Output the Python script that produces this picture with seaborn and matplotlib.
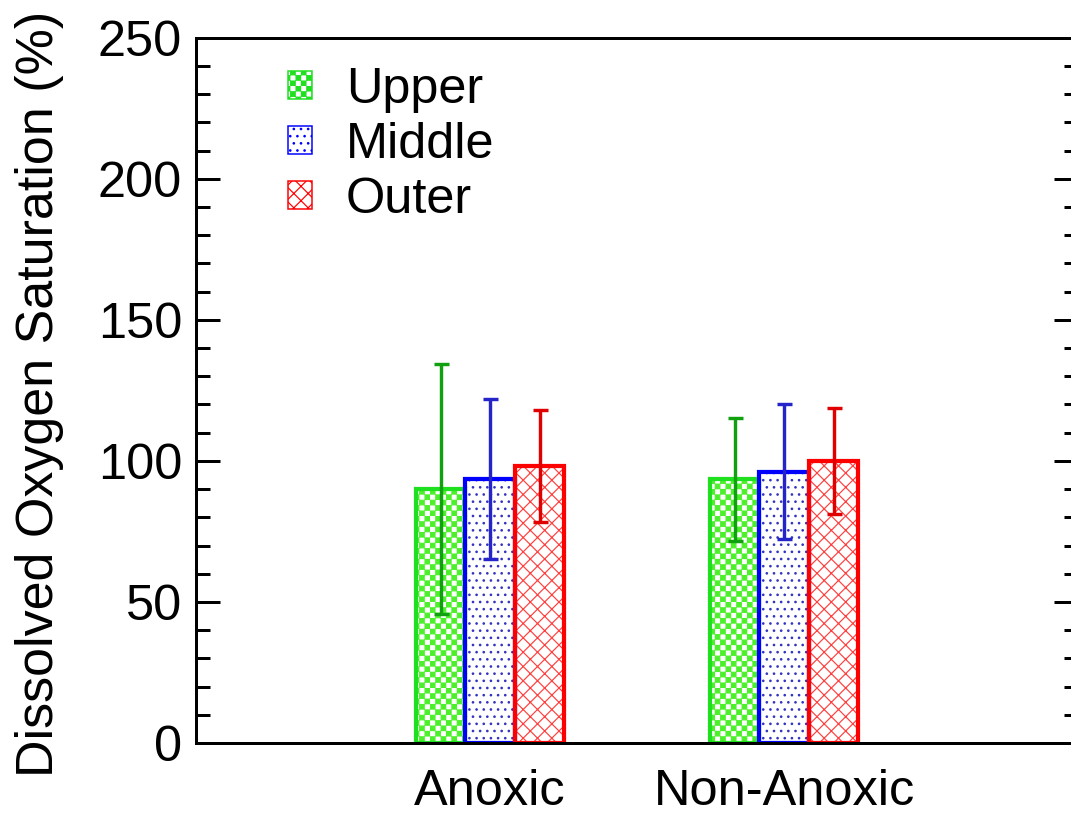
import warnings
import numpy as np
import pandas as pd
import matplotlib
matplotlib.use('Agg')
import matplotlib.pyplot as plt
import matplotlib.hatch as mhatch
from matplotlib.path import Path
from matplotlib.patches import Patch
from matplotlib.ticker import MultipleLocator
import seaborn as sns

warnings.filterwarnings('ignore')

# ---------------- data ----------------
categories = ['Anoxic', 'Non-Anoxic']
zones = ['Upper', 'Middle', 'Outer']
upper_mean = [90.0, 93.5]
upper_sd = [44.4, 21.8]
middle_mean = [93.5, 96.2]
middle_sd = [28.4, 23.8]
outer_mean = [98.3, 99.8]
outer_sd = [19.8, 18.8]
y_ticks = [0, 50, 100, 150, 200, 250]
y_label = 'Dissolved Oxygen Saturation (%)'

# ---------------- style ----------------
edge_colors = ['#1ee01e', '#0000ff', '#ff0000']
fill_colors = ['#4cf02a', '#3434c0', '#ff4040']
err_colors = ['#10a010', '#2424c8', '#e00000']
hatches = ['c', '..', 'xx']

DPI = 86
PT = 72.0 / DPI
FS = 50.5 * PT
FS_LABEL = 52 * PT


class CheckerHatch(mhatch.HatchPatternBase):
    """Filled checkerboard hatch, selected with the character 'c'."""
    cells = 16

    def __init__(self, hatch, density):
        k = hatch.count('c') if hatch else 0
        self.n = self.cells * k
        self.num_vertices = (self.n * self.n // 2) * 5

    def set_vertices_and_codes(self, vertices, codes):
        s = 1.0 / self.n
        inset = 0.005
        quads = []
        for i in range(self.n):
            for j in range(self.n):
                if (i + j) % 2 == 0:
                    x0, y0 = i * s + inset, j * s + inset
                    x1, y1 = (i + 1) * s - inset, (j + 1) * s - inset
                    quads.append([[x0, y0], [x1, y0], [x1, y1], [x0, y1], [x0, y0]])
        vertices[:] = np.asarray(quads, dtype=float).reshape(-1, 2)
        codes[:] = np.tile([Path.MOVETO, Path.LINETO, Path.LINETO,
                            Path.LINETO, Path.CLOSEPOLY], len(quads))


mhatch._hatch_types.append(CheckerHatch)

sns.set_style('white')
plt.rcParams['font.family'] = ['Liberation Sans', 'DejaVu Sans']
plt.rcParams['hatch.linewidth'] = 1.0
for key in ['text.color', 'axes.labelcolor', 'xtick.color', 'ytick.color',
            'axes.edgecolor']:
    plt.rcParams[key] = 'black'

means = [upper_mean, middle_mean, outer_mean]
sds = [upper_sd, middle_sd, outer_sd]
rows = []
for z, m in zip(zones, means):
    for c, v in zip(categories, m):
        rows.append({'condition': c, 'zone': z, 'value': v})
df = pd.DataFrame(rows)

fig = plt.figure(figsize=((1071 + 0.3) / DPI, (815 + 0.3) / DPI), dpi=DPI)
fig.patch.set_facecolor('white')
ax = fig.add_axes([196 / 1071, 72 / 815, 882 / 1071, 705 / 815])

# hatched fills
sns.barplot(data=df, x='condition', y='value', hue='zone', order=categories,
            hue_order=zones, palette=fill_colors, width=0.505, errorbar=None,
            saturation=1, linewidth=0, legend=False, ax=ax)
for cont, hc, h in zip(ax.containers[:3], fill_colors, hatches):
    for bar in cont:
        bar.set_facecolor('white')
        bar.set_edgecolor(hc)
        bar.set_hatch(h)
        bar.set_linewidth(0)

# outlines
sns.barplot(data=df, x='condition', y='value', hue='zone', order=categories,
            hue_order=zones, palette=edge_colors, width=0.505, errorbar=None,
            saturation=1, fill=False, linewidth=4.2 * PT, legend=False, ax=ax)

# error bars
for cont, m, sd, ec in zip(ax.containers[:3], means, sds, err_colors):
    xs = [b.get_x() + b.get_width() / 2 for b in cont]
    ax.errorbar(xs, m, yerr=sd, fmt='none', ecolor=ec, elinewidth=3.4 * PT,
                capsize=7.5 * PT, capthick=3.4 * PT, zorder=5)

# axes
ax.set_xlim(-1, 2)
ax.set_ylim(0, 250)
ax.set_yticks(y_ticks)
ax.yaxis.set_minor_locator(MultipleLocator(10))
ax.tick_params(axis='y', which='both', direction='in', left=True, right=True,
               width=3 * PT, labelsize=FS, pad=14 * PT, color='black',
               labelcolor='black')
ax.tick_params(axis='y', which='major', length=24 * PT)
ax.tick_params(axis='y', which='minor', length=14 * PT)
ax.tick_params(axis='x', which='both', length=0, labelsize=FS, pad=26 * PT,
               labelcolor='black', bottom=False)
ax.spines['right'].set_visible(False)
for s in ['left', 'top', 'bottom']:
    ax.spines[s].set_linewidth(3 * PT)
    ax.spines[s].set_color('black')
ax.set_xlabel('')
ax.set_ylabel(y_label, fontsize=FS_LABEL, color='black')
ax.yaxis.set_label_coords(-0.1497, 0.495)

# legend
handles = [Patch(facecolor='white', edgecolor=ec, hatch=h, linewidth=1.5 * PT)
           for ec, h in zip(edge_colors, hatches)]
leg = ax.legend(handles, zones, loc='upper left',
                bbox_to_anchor=(288 / 1071, (815 - 67) / 815),
                bbox_transform=fig.transFigure, frameon=False, fontsize=FS,
                handlelength=0.475, handleheight=0.475, handletextpad=0.67,
                labelspacing=0.18, borderpad=0, borderaxespad=0)
for t in leg.get_texts():
    t.set_color('black')

fig.savefig('out.png', dpi=DPI, facecolor='white')
